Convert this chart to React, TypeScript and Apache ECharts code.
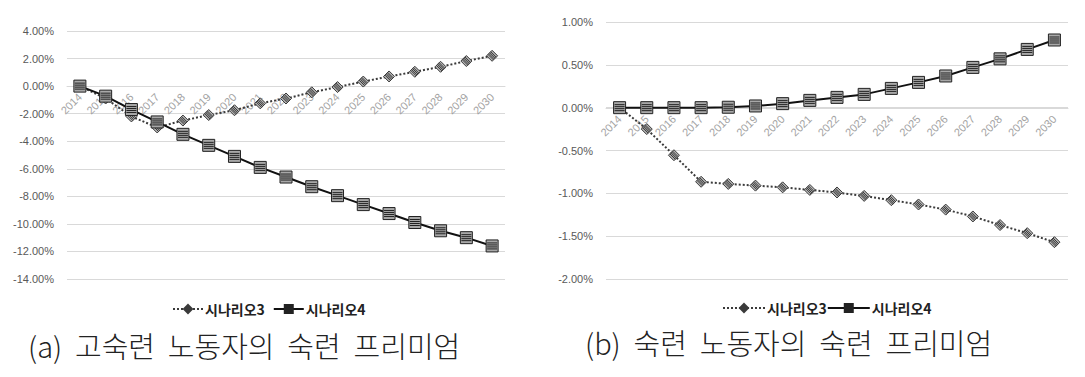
import React, { useEffect, useRef } from "react";
import * as echarts from "echarts";

const years = ["2014","2015","2016","2017","2018","2019","2020","2021","2022","2023","2024","2025","2026","2027","2028","2029","2030"];
const s3a = [0, -0.9, -2.2, -3.0, -2.5, -2.1, -1.75, -1.25, -0.9, -0.45, -0.07, 0.33, 0.7, 1.04, 1.4, 1.82, 2.2];
const s4a = [0, -0.73, -1.7, -2.6, -3.5, -4.3, -5.1, -5.9, -6.6, -7.3, -7.95, -8.6, -9.25, -9.9, -10.5, -11.0, -11.6];
const s3b = [0, -0.25, -0.555, -0.865, -0.89, -0.91, -0.93, -0.96, -0.99, -1.03, -1.08, -1.13, -1.19, -1.27, -1.37, -1.465, -1.57];
const s4b = [0, 0, 0, 0, 0.005, 0.02, 0.047, 0.085, 0.12, 0.155, 0.225, 0.295, 0.37, 0.47, 0.57, 0.68, 0.79];
const name3 = "시나리오3";
const name4 = "시나리오4";
const titleA = "(a)  고숙련  노동자의  숙련  프리미엄";
const titleB = "(b)  숙련  노동자의  숙련  프리미엄";

const SQUARE = "path://M0,0H12V12H0Z M1,3H11 M1,5H11 M1,7H11 M1,9H11";
const DIAMOND = "path://M6,0L12,6L6,12L0,6Z M3.5,2.5L9.5,8.5 M2.5,3.5L8.5,9.5 M1.5,4.5L7.5,10.5 M4.5,1.5L10.5,7.5";

export default function App() {
  const ref = useRef<HTMLDivElement>(null);
  useEffect(() => {
    const chart = echarts.init(ref.current!, null, { renderer: "svg" });
    const axisFont = "'Liberation Sans', Arial, sans-serif";
    const korFont = "'Noto Sans CJK KR', sans-serif";
    const mkX = (gi: number, offset: number) => ({
      type: "category",
      gridIndex: gi,
      data: years,
      boundaryGap: true,
      offset,
      axisLine: { show: true, onZero: false, lineStyle: { color: "#d9d9d9", width: 1 } },
      axisTick: { show: false },
      axisLabel: { interval: 0, rotate: 45, margin: 9, color: "#a3a3a3", fontSize: 11, fontFamily: axisFont },
      splitLine: { show: false },
    });
    const mkY = (gi: number, min: number, max: number, interval: number) => ({
      type: "value",
      gridIndex: gi,
      min, max, interval,
      axisLine: { show: false },
      axisTick: { show: false },
      axisLabel: { margin: 13, color: "#595959", fontSize: 11, fontFamily: axisFont, formatter: (v: number) => v.toFixed(2) + "%" },
      splitLine: { lineStyle: { color: "#d9d9d9", width: 1 } },
    });
    const s3style = (xi: number, data: number[]) => ({
      name: name3, type: "line", xAxisIndex: xi, yAxisIndex: xi, data,
      symbol: DIAMOND, symbolSize: 11,
      lineStyle: { type: "dotted", color: "#3a3a3a", width: 2 },
      itemStyle: { color: "#b5b5b5", borderColor: "#3a3a3a", borderWidth: 1 },
      z: 2,
    });
    const s4style = (xi: number, data: number[]) => ({
      name: name4, type: "line", xAxisIndex: xi, yAxisIndex: xi, data,
      symbol: SQUARE, symbolSize: 12,
      lineStyle: { type: "solid", color: "#111", width: 2 },
      itemStyle: { color: "#a8a8a8", borderColor: "#222", borderWidth: 1 },
      z: 3,
    });
    const legendText = { color: "#222", fontSize: 14, fontWeight: "bold", fontFamily: korFont, padding: [0, 0, 0, -3] };
    chart.setOption({
      animation: false,
      backgroundColor: "#ffffff",
      grid: [
        { left: 67, right: 580, top: 31, bottom: 98, containLabel: false },
        { left: 606, right: 17, top: 22, bottom: 98, containLabel: false },
      ],
      xAxis: [mkX(0, -193), mkX(1, -171)],
      yAxis: [mkY(0, -14, 4, 2), mkY(1, -2, 1, 0.5)],
      legend: [
        {
          left: 167, top: 297, itemWidth: 30, itemHeight: 10, itemGap: 8,
          data: [name3, name4],
          textStyle: legendText,
        },
        {
          left: 717, top: 296, itemWidth: 42, itemHeight: 10, itemGap: 0,
          data: [name3, name4],
          textStyle: legendText,
        },
      ],
      title: [
        { text: titleA, left: 28, top: 330, padding: 0, textStyle: { color: "#222", fontSize: 29, fontWeight: 300, fontFamily: korFont } },
        { text: titleB, left: 585, top: 327, padding: 0, textStyle: { color: "#222", fontSize: 29, fontWeight: 300, fontFamily: korFont } },
      ],
      series: [s3style(0, s3a), s4style(0, s4a), s3style(1, s3b), s4style(1, s4b)],
    });
    return () => chart.dispose();
  }, []);
  return <div ref={ref} style={{ position: "fixed", left: 0, top: 0, width: 1085, height: 377 }} />;
}
